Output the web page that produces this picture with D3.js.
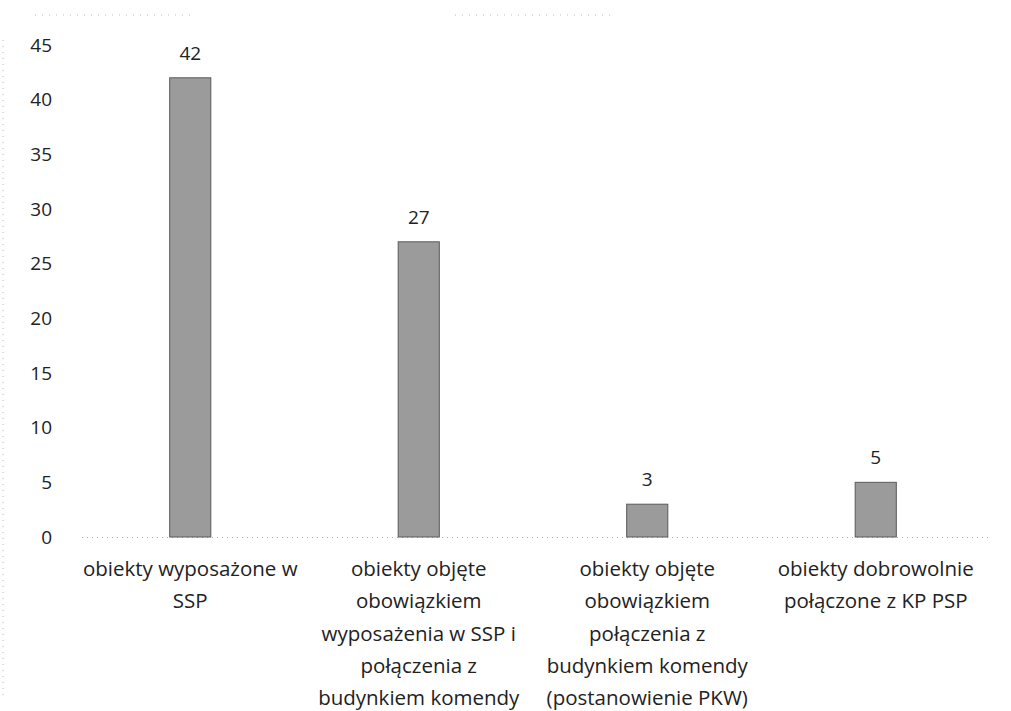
<!DOCTYPE html>
<html><head><meta charset="utf-8">
<script src="https://cdn.jsdelivr.net/npm/d3@7"></script>
<style>body{margin:0;background:#fff;} svg{display:block;}</style>
</head><body>
<svg id="c" width="1011" height="711"></svg>
<script>
const categories = [
  ["obiekty wyposażone w", "SSP"],
  ["obiekty objęte", "obowiązkiem", "wyposażenia w SSP i", "połączenia z", "budynkiem komendy"],
  ["obiekty objęte", "obowiązkiem", "połączenia z", "budynkiem komendy", "(postanowienie PKW)"],
  ["obiekty dobrowolnie", "połączone z KP PSP"]
];
const values = [42, 27, 3, 5];
const yTicks = [0, 5, 10, 15, 20, 25, 30, 35, 40, 45];

(function () {
const svg = d3.select("#c");
const font = "'Open Sans', 'Liberation Sans', sans-serif";
const mLeft = 76, mRight = 990, mTop = 45, mBottom = 537;

const x = d3.scaleBand().domain(d3.range(values.length)).range([mLeft, mRight]).paddingInner(0.82).paddingOuter(0.41);
const y = d3.scaleLinear().domain([0, 45]).range([mBottom, mTop]);

// faint scan borders
svg.append("line").attr("x1", 3).attr("x2", 3).attr("y1", 40).attr("y2", 700)
  .attr("stroke", "#bbb").attr("stroke-dasharray", "1,5");
[[35, 190], [455, 610]].forEach(([a, b]) => {
  svg.append("line").attr("x1", a).attr("x2", b).attr("y1", 15).attr("y2", 15)
    .attr("stroke", "#bbb").attr("stroke-dasharray", "1,6");
});

// y axis labels
const yAxis = d3.axisLeft(y).tickValues(yTicks).tickSize(0).tickPadding(0);
const ga = svg.append("g").attr("transform", `translate(52,0)`).call(yAxis);
ga.select(".domain").remove();
ga.selectAll("text").attr("font-family", font).attr("font-size", 19).attr("fill", "#222");

// baseline
svg.append("line").attr("x1", 82).attr("x2", 990).attr("y1", mBottom + 0.5).attr("y2", mBottom + 0.5)
  .attr("stroke", "#aaa").attr("stroke-dasharray", "1,4");

// bars
svg.selectAll("rect.bar").data(values).join("rect").attr("class", "bar")
  .attr("x", (d, i) => x(i)).attr("width", x.bandwidth())
  .attr("y", d => y(d)).attr("height", d => y(0) - y(d))
  .attr("fill", "#9b9b9b").attr("stroke", "#5a5a5a").attr("stroke-width", 1);

// value labels
svg.selectAll("text.val").data(values).join("text").attr("class", "val")
  .attr("x", (d, i) => x(i) + x.bandwidth() / 2).attr("y", d => y(d) - 18)
  .attr("text-anchor", "middle").attr("font-family", font).attr("font-size", 19).attr("fill", "#222")
  .text(d => d);

// category labels
categories.forEach((lines, i) => {
  const t = svg.append("text").attr("text-anchor", "middle").attr("font-family", font)
    .attr("font-size", 20.5).attr("fill", "#222");
  lines.forEach((ln, j) => {
    t.append("tspan").attr("x", x(i) + x.bandwidth() / 2).attr("y", 576 + j * 32.3).text(ln);
  });
});
})();
</script>
</body></html>
